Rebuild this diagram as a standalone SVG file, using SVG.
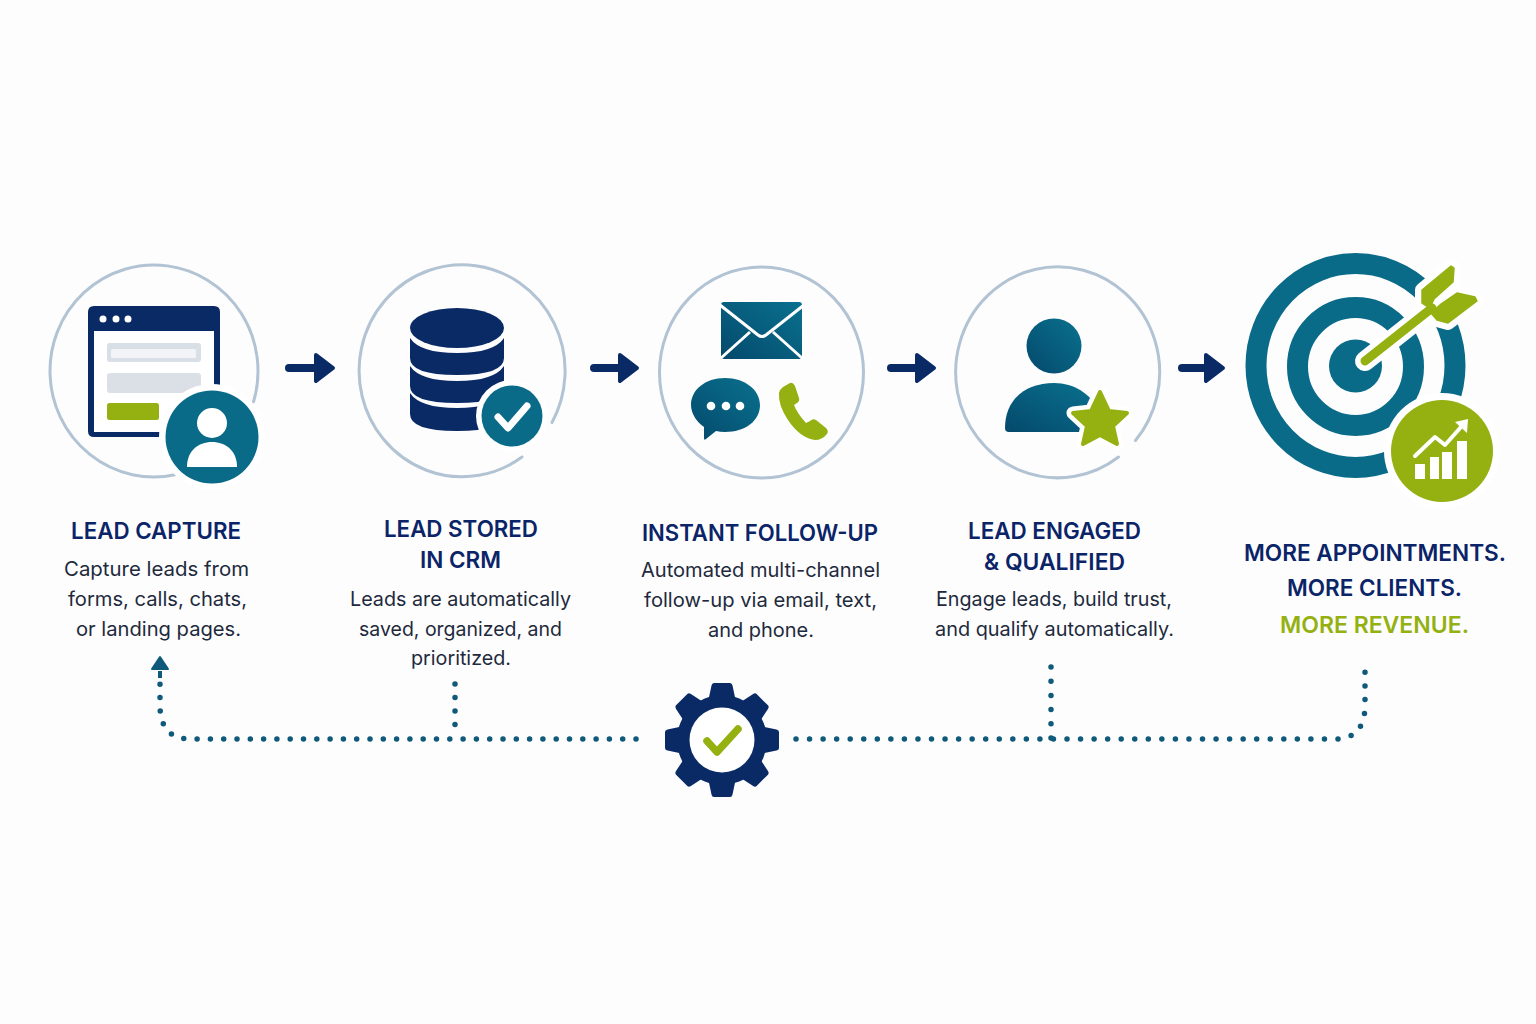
<svg xmlns="http://www.w3.org/2000/svg" width="1536" height="1024" viewBox="0 0 1536 1024">
<style>
.ring{fill:none;stroke:#b2c3d4;stroke-width:3;stroke-linecap:round}
.h{font-family:"Inter","Liberation Sans",sans-serif;font-weight:600;font-size:23px;fill:#0b2468;text-anchor:middle}
.b{font-family:"Inter","Liberation Sans",sans-serif;font-weight:400;font-size:20px;fill:#1e2a3c;text-anchor:middle}
.navy{fill:#0a2a66}
.teal{fill:url(#tg)}
.green{fill:#94b111}
.w{fill:#fff}
.arrow{fill:none;stroke:#0a2a66;stroke-width:8;stroke-linecap:round;marker-end:url(#head)}
.dots{fill:none;stroke:#0f5a7a;stroke-width:5.500;stroke-linecap:round}
</style>
<defs>
<linearGradient id="tg" x1="0" y1="1" x2="1" y2="0"><stop offset="0" stop-color="#04496c"/><stop offset="1" stop-color="#0a718e"/></linearGradient>
<marker id="head" markerUnits="userSpaceOnUse" markerWidth="24" markerHeight="36" refX="2" refY="18" orient="auto" viewBox="0 0 24 36"><path d="M3 5 L20 18 L3 31 Z" fill="#0a2a66" stroke="#0a2a66" stroke-width="4" stroke-linejoin="round"/></marker>
<marker id="up" markerUnits="userSpaceOnUse" markerWidth="18" markerHeight="20" refX="1" refY="10" orient="auto" viewBox="0 0 18 20"><path d="M3 2 L15 10 L3 18 Z" fill="#0f5a7a" stroke="#0f5a7a" stroke-width="2" stroke-linejoin="round"/></marker>
<path id="tooth" d="M-8 -57 H8 Q10 -57 10.500 -54.500 L14 -38 H-14 L-10.500 -54.500 Q-10 -57 -8 -57Z" fill="#0a2a66"/>
</defs>
<rect width="1536" height="1024" fill="#fdfdfe"/>

<g id="connectors">
<path class="arrow" d="M289 368 H315"/>
<path class="arrow" d="M594 368 H619"/>
<path class="arrow" d="M891 368 H916"/>
<path class="arrow" d="M1182 368 H1205"/>
<path class="dots" stroke-dasharray="0 13.3" d="M636 739 H190 Q160 739 160 705 V683"/>
<path d="M160 678 V671" fill="none" stroke="#0f5a7a" stroke-width="4" marker-end="url(#up)"/>
<path class="dots" stroke-dasharray="0 13.5" d="M455 684 V738"/>
<path class="dots" stroke-dasharray="0 13.55" d="M796 739 H1338 Q1365 737 1365 705 V668"/>
<path class="dots" stroke-dasharray="0 14.2" d="M1051 667 V738"/>
</g>

<g id="node-lead-capture">
<path class="ring" d="M253.500 401.800 A104 106 0 1 0 175 474.800"/>
<path class="navy" d="M94 306 H214 Q220 306 220 312 V431 Q220 437 214 437 H94 Q88 437 88 431 V312 Q88 306 94 306Z"/>
<rect class="w" x="94" y="331" width="120" height="101"/>
<circle class="w" cx="103" cy="319" r="3.500"/><circle class="w" cx="116" cy="319" r="3.500"/><circle class="w" cx="128" cy="319" r="3.500"/>
<rect x="107" y="343" width="94" height="19" rx="3" fill="#d9dfe6"/>
<rect x="111" y="349" width="85" height="9" rx="1.500" fill="#f2f4f7"/>
<rect x="107" y="373" width="94" height="20" rx="3" fill="#dbe0e7"/>
<rect class="green" x="107" y="403" width="52" height="17" rx="2.500"/>
<circle class="w" cx="212" cy="437" r="53"/>
<circle cx="212" cy="437" r="46.500" fill="#0a6b89"/>
<circle class="w" cx="212" cy="423" r="15"/>
<path class="w" d="M187 467 C187 451 198 442 212 442 C226 442 237 451 237 467Z"/>
</g>

<g id="node-lead-stored">
<path class="ring" d="M552 422.500 A103 106 0 1 0 522 457"/>
<ellipse class="navy" cx="457" cy="328" rx="47" ry="20"/>
<path class="navy" d="M410 338 Q420 353 457 353 Q494 353 504 338 V358 Q504 375 457 375 Q410 375 410 358Z"/>
<path class="navy" d="M410 366 Q420 381 457 381 Q494 381 504 366 V386 Q504 403 457 403 Q410 403 410 386Z"/>
<path class="navy" d="M410 393 Q420 408 457 408 Q494 408 504 393 V414 Q504 431 457 431 Q410 431 410 414Z"/>
<circle class="w" cx="512" cy="416" r="36"/>
<circle cx="512" cy="416" r="30.500" fill="#0a6b89"/>
<path d="M498 417 L508 428 L527 406" fill="none" stroke="#fff" stroke-width="7" stroke-linecap="round" stroke-linejoin="round"/>
</g>

<g id="node-follow-up">
<ellipse class="ring" cx="761.500" cy="372.500" rx="102" ry="105.500"/>
<path class="teal" d="M724 302 H799 Q802 302 802 305 V356 Q802 359 799 359 H724 Q721 359 721 356 V305 Q721 302 724 302Z"/>
<path d="M720 305 L758 335 Q762 338 766 335 L804 305 M721 358 L750 332 M802 358 L773 332" fill="none" stroke="#fff" stroke-width="3"/>
<path class="teal" d="M725 378 C745 378 760 390 760 405 C760 421 745 432 725 432 Q720 432 716 431 L706 439 Q704 441 704 438 L704 427 C697 422 691 414 691 405 C691 390 705 378 725 378Z"/>
<circle class="w" cx="711" cy="406" r="4.300"/><circle class="w" cx="726" cy="406" r="4.300"/><circle class="w" cx="740" cy="406" r="4.300"/>
<path class="green" d="M783 387 L790 383 Q793 382 795 386 L799 398 Q800 401 797 403 L794 405 Q797 413 806 423 L810 421 Q813 418 816 420 L826 428 Q829 431 827 434 Q822 440 815 440 Q800 438 788 420 Q778 405 779 393 Q780 389 783 387Z"/>
</g>

<g id="node-lead-engaged">
<path class="ring" d="M1135.500 440.500 A102 105.500 0 1 0 1118.500 457"/>
<circle class="teal" cx="1054" cy="346" r="27.500"/>
<path class="teal" d="M1005 428 C1005 400 1025 383 1054 383 C1075 383 1090 395 1095 405 L1090 432 H1009 Q1005 432 1005 428Z"/>
<path d="M1100 392 L1109 411 L1127 413 L1113 426 L1117 444 L1100 435 L1083 444 L1087 426 L1073 413 L1091 411Z" fill="#94b111" stroke="#fff" stroke-width="13" stroke-linejoin="round"/>
<path class="green" d="M1100 392 L1109 411 L1127 413 L1113 426 L1117 444 L1100 435 L1083 444 L1087 426 L1073 413 L1091 411Z" stroke="#94b111" stroke-width="4" stroke-linejoin="round"/>
</g>

<g id="node-more-revenue">
<ellipse cx="1355.500" cy="365.500" rx="99.500" ry="102" fill="none" stroke="#0a6b89" stroke-width="21"/>
<ellipse cx="1355.500" cy="366.500" rx="58" ry="59" fill="none" stroke="#0a6b89" stroke-width="21"/>
<circle cx="1355.500" cy="366" r="26.500" fill="#0a6b89"/>
<path d="M1365 361 L1432 308" fill="none" stroke="#fff" stroke-width="20" stroke-linecap="round"/>
<path d="M1422 290 L1451 266 L1454 268 L1453 282 L1434 299 L1430 308 L1422 303Z M1457 293 L1475 297 L1477 301 L1448 323 L1437 320 L1431 313 L1441 304Z" fill="#fff" stroke="#fff" stroke-width="14" stroke-linejoin="round"/>
<path d="M1365 361 L1432 308" fill="none" stroke="#94b111" stroke-width="9" stroke-linecap="round"/>
<path d="M1422 290 L1451 266 L1454 268 L1453 282 L1434 299 L1430 308 L1422 303Z M1457 293 L1475 297 L1477 301 L1448 323 L1437 320 L1431 313 L1441 304Z" fill="#94b111" stroke="#94b111" stroke-width="1.500" stroke-linejoin="round"/>
<circle class="w" cx="1442" cy="451" r="58"/>
<circle class="green" cx="1442" cy="451" r="51"/>
<path class="w" d="M1415 464 H1425 V479 H1415Z M1430 457 H1439 V479 H1430Z M1442 452 H1452 V479 H1442Z M1457 441 H1467 V479 H1457Z"/>
<path d="M1415 456 L1435 437 L1445 445 L1461 427" fill="none" stroke="#fff" stroke-width="4" stroke-linecap="round" stroke-linejoin="round"/>
<path class="w" d="M1468 419 L1455 422 L1467 433Z"/>
</g>

<g id="node-automation">
<use href="#tooth" transform="translate(722 740)"/>
<use href="#tooth" transform="translate(722 740) rotate(45)"/>
<use href="#tooth" transform="translate(722 740) rotate(90)"/>
<use href="#tooth" transform="translate(722 740) rotate(135)"/>
<use href="#tooth" transform="translate(722 740) rotate(180)"/>
<use href="#tooth" transform="translate(722 740) rotate(225)"/>
<use href="#tooth" transform="translate(722 740) rotate(270)"/>
<use href="#tooth" transform="translate(722 740) rotate(315)"/>
<circle class="navy" cx="722" cy="740" r="45"/>
<circle class="w" cx="722" cy="740" r="32.500"/>
<path d="M707 741 L717 752 L738 729" fill="none" stroke="#94b111" stroke-width="7.500" stroke-linecap="round" stroke-linejoin="round"/>
</g>

<g id="text-lead-capture">
<text class="h" x="156" y="539" textLength="170" lengthAdjust="spacingAndGlyphs">LEAD CAPTURE</text>
<text class="b" x="156.500" y="576" textLength="185" lengthAdjust="spacingAndGlyphs">Capture leads from</text>
<text class="b" x="157.500" y="606" textLength="179" lengthAdjust="spacingAndGlyphs">forms, calls, chats,</text>
<text class="b" x="158.500" y="636" textLength="165" lengthAdjust="spacingAndGlyphs">or landing pages.</text>
</g>
<g id="text-lead-stored">
<text class="h" x="461" y="537" textLength="154" lengthAdjust="spacingAndGlyphs">LEAD STORED</text>
<text class="h" x="460.500" y="568" textLength="81" lengthAdjust="spacingAndGlyphs">IN CRM</text>
<text class="b" x="460.500" y="606" textLength="221" lengthAdjust="spacingAndGlyphs">Leads are automatically</text>
<text class="b" x="460.500" y="636" textLength="203" lengthAdjust="spacingAndGlyphs">saved, organized, and</text>
<text class="b" x="461" y="665" textLength="100" lengthAdjust="spacingAndGlyphs">prioritized.</text>
</g>
<g id="text-follow-up">
<text class="h" x="760" y="541" textLength="236" lengthAdjust="spacingAndGlyphs">INSTANT FOLLOW-UP</text>
<text class="b" x="760.500" y="577" textLength="239" lengthAdjust="spacingAndGlyphs">Automated multi-channel</text>
<text class="b" x="760.500" y="607" textLength="233" lengthAdjust="spacingAndGlyphs">follow-up via email, text,</text>
<text class="b" x="761" y="637" textLength="106" lengthAdjust="spacingAndGlyphs">and phone.</text>
</g>
<g id="text-lead-engaged">
<text class="h" x="1054.500" y="539" textLength="173" lengthAdjust="spacingAndGlyphs">LEAD ENGAGED</text>
<text class="h" x="1054.500" y="570" textLength="141" lengthAdjust="spacingAndGlyphs">&amp; QUALIFIED</text>
<text class="b" x="1054" y="606" textLength="236" lengthAdjust="spacingAndGlyphs">Engage leads, build trust,</text>
<text class="b" x="1054.500" y="636" textLength="239" lengthAdjust="spacingAndGlyphs">and qualify automatically.</text>
</g>
<g id="text-more-revenue">
<text class="h" x="1375" y="561" textLength="262" lengthAdjust="spacingAndGlyphs">MORE APPOINTMENTS.</text>
<text class="h" x="1374.500" y="596" textLength="175" lengthAdjust="spacingAndGlyphs">MORE CLIENTS.</text>
<text class="h" x="1374.500" y="633" textLength="189" lengthAdjust="spacingAndGlyphs" style="fill:#94b111">MORE REVENUE.</text>
</g>
</svg>
